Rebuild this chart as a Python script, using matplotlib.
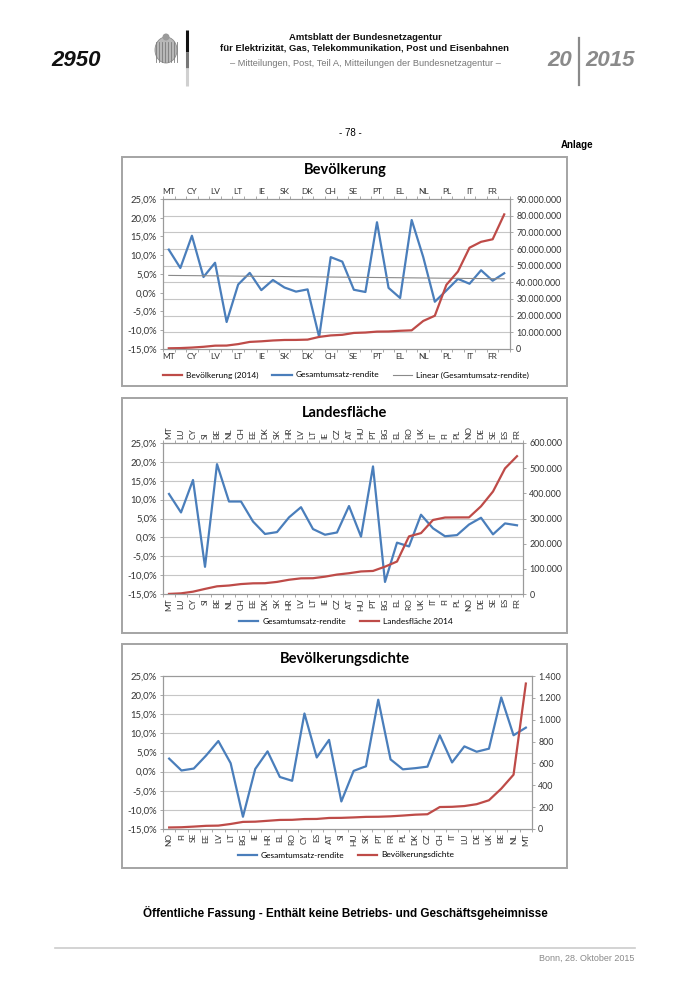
"""
Amtsblatt Seite 2950 - Anlage mit drei Diagrammen
(Gesamtumsatz-rendite gegen Bevoelkerung, Landesflaeche, Bevoelkerungsdichte)
"""
import numpy as np
import matplotlib
matplotlib.use("Agg")
import matplotlib.pyplot as plt
from matplotlib.patches import Rectangle, Ellipse
from matplotlib.lines import Line2D
from matplotlib.ticker import FuncFormatter

###################################################################################################
# Daten
###################################################################################################
# Laender in Reihenfolge der Bevoelkerung
laender = ["MT", "LU", "CY", "EE", "LV", "SI", "LT", "HR", "IE", "NO",
           "SK", "FI", "DK", "BG", "CH", "AT", "SE", "HU", "PT", "CZ",
           "EL", "BE", "NL", "RO", "PL", "ES", "IT", "UK", "FR", "DE"]
rendite_pct = [11.5, 6.6, 15.2, 4.2, 8.0, -7.8, 2.2, 5.3, 0.7, 3.4,
               1.4, 0.3, 0.9, -11.8, 9.5, 8.3, 0.8, 0.2, 18.8, 1.3,
               -1.4, 19.4, 9.5, -2.4, 0.6, 3.7, 2.4, 6.0, 3.2, 5.2]
bevoelkerung_mio = [0.43, 0.55, 0.86, 1.32, 2.00, 2.06, 2.94, 4.25, 4.61, 5.11,
                    5.42, 5.45, 5.63, 7.25, 8.14, 8.51, 9.64, 9.88, 10.43, 10.51,
                    10.93, 11.20, 16.83, 19.95, 38.50, 46.51, 60.78, 64.31, 65.84, 80.77]

flaeche_laender = ["MT", "LU", "CY", "SI", "BE", "NL", "CH", "EE", "DK", "SK",
                   "HR", "LV", "LT", "IE", "CZ", "AT", "HU", "PT", "BG", "EL",
                   "RO", "UK", "IT", "FI", "PL", "NO", "DE", "SE", "ES", "FR"]
flaeche_km2 = [316, 2586, 9251, 20273, 30528, 33700, 39500, 42400, 42900, 48100,
               56600, 62200, 62700, 68900, 77200, 82500, 89600, 91600, 108600, 129000,
               229000, 241900, 294100, 303900, 304300, 304400, 348500, 407300, 499000, 547600]

dichte_laender = ["NO", "FI", "SE", "EE", "LV", "LT", "BG", "IE", "HR", "EL",
                  "RO", "CY", "ES", "AT", "SI", "HU", "SK", "PT", "FR", "PL",
                  "DK", "CZ", "CH", "IT", "LU", "DE", "UK", "BE", "NL", "MT"]
dichte_ew_km2 = [14, 16, 22, 29, 31, 46, 65, 67, 75, 83,
                 84, 91, 92, 101, 102, 106, 111, 112, 116, 123,
                 131, 135, 201, 203, 210, 227, 263, 369, 497, 1331]

rendite = dict(zip(laender, rendite_pct))

###################################################################################################
# Stil
###################################################################################################
W, H = 700, 990
BLAU = "#4a7ebb"
ROT = "#be4b48"
GRID = "#c6c6c6"
ACHSE = "#9a9a9a"
TXT = "#333333"
PAGE_FONT = ["Liberation Sans", "DejaVu Sans"]
plt.rcParams["font.family"] = ["Lato", "DejaVu Sans"]


def fx(x):
    return x / W


def fy(y):
    return 1 - y / H


def ptext(fig, x, y, s, **kw):
    fig.text(fx(x), fy(y), s, **kw)


pct_fmt = FuncFormatter(lambda v, pos: f"{v:.1f}%".replace(".", ","))
num_fmt = FuncFormatter(lambda v, pos: f"{int(round(v)):,}".replace(",", "."))


def draw_chart(fig, box, plot, title, title_y, cats, red_vals, red_max, red_step,
               red_label, label_every, rotate, top_labels, grid_right,
               legend_order, legend_y, trend=False):
    # Rahmen des Diagramms
    bx0, by0, bx1, by1 = box
    fig.add_artist(Rectangle((fx(bx0), fy(by1)), (bx1 - bx0) / W, (by1 - by0) / H,
                             transform=fig.transFigure, facecolor="white",
                             edgecolor="#a4a4a4", lw=1.4, zorder=-1))
    ptext(fig, 345, title_y, title, ha="center", va="center", fontsize=10.5,
          fontweight="bold", color="black")

    x0, y0, x1, y1 = plot
    ax = fig.add_axes([fx(x0), fy(y1), (x1 - x0) / W, (y1 - y0) / H])
    ax2 = ax.twinx()
    n = len(cats)
    idx = np.arange(n)
    blue = [rendite[c] for c in cats]

    handles = {}
    handles["blue"] = ax.plot(idx, blue, color=BLAU, lw=1.6)[0]
    if trend:
        coef = np.polyfit(idx, blue, 1)
        handles["trend"] = ax.plot(idx, np.polyval(coef, idx), color="#8a8a8a", lw=0.8)[0]
    handles["red"] = ax2.plot(idx, red_vals, color=ROT, lw=1.6)[0]

    ax.set_xlim(-0.5, n - 0.5)
    ax.set_ylim(-15, 25)
    ax2.set_ylim(0, red_max)
    ax.set_yticks(np.arange(-15, 26, 5))
    ax2.set_yticks(np.arange(0, red_max + 1, red_step))
    ax.yaxis.set_major_formatter(pct_fmt)
    ax2.yaxis.set_major_formatter(num_fmt)

    # Gitterlinien
    if grid_right:
        for v in np.arange(red_step, red_max, red_step):
            ax.axhline(-15 + v / red_max * 40, color=GRID, lw=0.8, zorder=0)
    else:
        for v in np.arange(-10, 25, 5):
            ax.axhline(v, color=GRID, lw=0.8, zorder=0)

    ax.set_xticks(idx[::label_every])
    ax.set_xticklabels(cats[::label_every])
    ax.set_xticks(np.arange(-0.5, n, 1), minor=True)
    ax.tick_params(axis="x", which="major", length=0, labelsize=6, labelcolor=TXT,
                   pad=3, top=top_labels, labeltop=top_labels,
                   labelrotation=90 if rotate else 0)
    ax.tick_params(axis="x", which="minor", length=2.5, width=0.6, color=ACHSE,
                   direction="out", top=top_labels)
    ax.tick_params(axis="y", length=2.5, width=0.6, color=ACHSE, labelsize=6.8,
                   labelcolor=TXT, pad=2)
    ax2.tick_params(axis="y", length=2.5, width=0.6, color=ACHSE, labelsize=6.4,
                    labelcolor=TXT, pad=2)
    for a in (ax, ax2):
        for s in a.spines.values():
            s.set_color(ACHSE)
            s.set_linewidth(0.8)

    labels = {"blue": "Gesamtumsatz-rendite", "red": red_label,
              "trend": "Linear (Gesamtumsatz-rendite)"}
    fig.legend([handles[k] for k in legend_order], [labels[k] for k in legend_order],
               loc="center", bbox_to_anchor=(fx(346), fy(legend_y)), ncol=len(legend_order),
               frameon=False, fontsize=6, handlelength=2.3, columnspacing=1.6,
               handletextpad=0.5, borderpad=0, borderaxespad=0)


###################################################################################################
# Seite
###################################################################################################
fig = plt.figure(figsize=(W / 100, H / 100), dpi=100)

# Kopfzeile
ptext(fig, 76, 61, "2950", ha="center", va="center", fontsize=16, fontweight="bold",
      style="italic", family=PAGE_FONT, color="#111111")
fig.add_artist(Ellipse((fx(166), fy(50)), 22 / W, 26 / H, transform=fig.transFigure,
                       facecolor="#b8b8b8", edgecolor="#8c8c8c", lw=0.6))
fig.add_artist(Ellipse((fx(166), fy(37)), 7 / W, 7 / H, transform=fig.transFigure,
                       facecolor="#9a9a9a", edgecolor="none"))
for xs in np.arange(156, 178, 3):
    fig.add_artist(Line2D([fx(xs), fx(xs)], [fy(42), fy(62)], transform=fig.transFigure,
                          color="#7d7d7d", lw=0.6))
for (ya, yb, col) in [(30, 52, "#111111"), (52, 68, "#777777"), (68, 86, "#d0d0d0")]:
    fig.add_artist(Line2D([fx(187), fx(187)], [fy(ya), fy(yb)], transform=fig.transFigure,
                          color=col, lw=2.2, solid_capstyle="butt"))
ptext(fig, 365, 37, "Amtsblatt der Bundesnetzagentur", ha="center", va="center",
      fontsize=6.8, fontweight="bold", family=PAGE_FONT, color="#111111")
ptext(fig, 365, 48, "für Elektrizität, Gas, Telekommunikation, Post und Eisenbahnen",
      ha="center", va="center", fontsize=6.8, fontweight="bold", family=PAGE_FONT,
      color="#111111")
ptext(fig, 365, 64, "– Mitteilungen, Post, Teil A, Mitteilungen der Bundesnetzagentur –",
      ha="center", va="center", fontsize=6.7, family=PAGE_FONT, color="#777777")
ptext(fig, 572, 61, "20", ha="right", va="center", fontsize=16, fontweight="bold",
      style="italic", family=PAGE_FONT, color="#8a8a8a")
ptext(fig, 585, 61, "2015", ha="left", va="center", fontsize=16, fontweight="bold",
      style="italic", family=PAGE_FONT, color="#8a8a8a")
fig.add_artist(Line2D([fx(579), fx(579)], [fy(38), fy(85)], transform=fig.transFigure,
                      color="#8a8a8a", lw=1.6))

ptext(fig, 350, 133, "- 78 -", ha="center", va="center", fontsize=7, family=PAGE_FONT)
ptext(fig, 593, 145, "Anlage", ha="right", va="center", fontsize=7, fontweight="bold",
      family=PAGE_FONT)

# Diagramme
draw_chart(fig, (122, 157, 567, 386), (163, 199, 510, 349), "Bevölkerung", 170,
           laender, [v * 1e6 for v in bevoelkerung_mio], 90e6, 10e6, "Bevölkerung (2014)",
           label_every=2, rotate=False, top_labels=True, grid_right=True,
           legend_order=["red", "blue", "trend"], legend_y=375, trend=True)
draw_chart(fig, (122, 398, 567, 633), (163, 443, 523, 594), "Landesfläche", 413,
           flaeche_laender, flaeche_km2, 600000, 100000, "Landesfläche 2014",
           label_every=1, rotate=True, top_labels=True, grid_right=False,
           legend_order=["blue", "red"], legend_y=621)
draw_chart(fig, (122, 644, 567, 868), (163, 676, 532, 829), "Bevölkerungsdichte", 659,
           dichte_laender, dichte_ew_km2, 1400, 200, "Bevölkerungsdichte",
           label_every=1, rotate=True, top_labels=False, grid_right=False,
           legend_order=["blue", "red"], legend_y=855)

# Fusszeile
ptext(fig, 345, 913, "Öffentliche Fassung - Enthält keine Betriebs- und Geschäftsgeheimnisse",
      ha="center", va="center", fontsize=8.4, fontweight="bold", family=PAGE_FONT)
fig.add_artist(Line2D([fx(55), fx(635)], [fy(948), fy(948)], transform=fig.transFigure,
                      color="#cccccc", lw=1.2))
ptext(fig, 634, 958, "Bonn, 28. Oktober 2015", ha="right", va="center", fontsize=6.5,
      family=PAGE_FONT, color="#8a8a8a")

fig.savefig("out.png", dpi=100)
